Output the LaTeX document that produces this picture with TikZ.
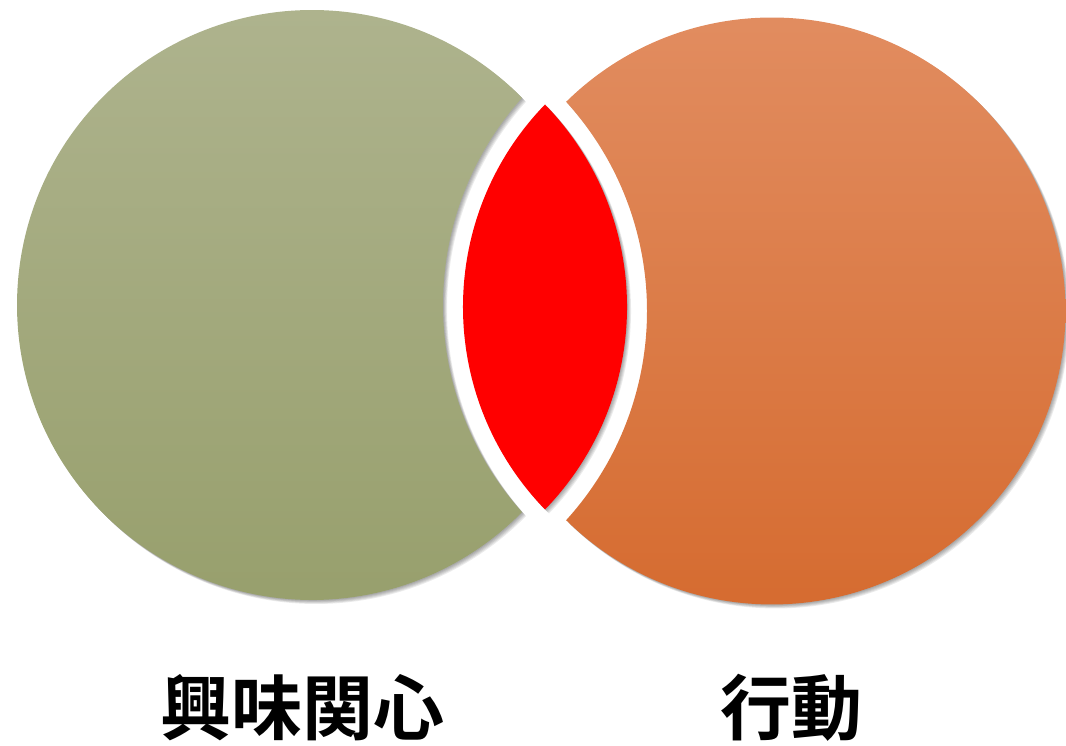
\documentclass[tikz,border=0pt]{standalone}
\usepackage{fontspec}
\newfontfamily\cjk{Noto Sans CJK JP}[BoldFont={Noto Sans CJK JP Bold}]
\definecolor{gtop}{RGB}{175,180,143}
\definecolor{gmid}{RGB}{164,170,124}
\definecolor{gbot}{RGB}{151,159,108}
\definecolor{otop}{RGB}{226,142,98}
\definecolor{omid}{RGB}{228,125,64}
\definecolor{obot}{RGB}{213,106,46}
\tikzset{
  greenshape/.style={insert path={(312,441) +(44.6:295) arc[start angle=44.6, end angle=315.4, radius=295] arc[start angle=221.77, end angle=138.23, radius=311] -- cycle}},
  orangeshape/.style={insert path={(772,435) +(134.54:293.5) arc[start angle=134.54, end angle=-134.54, radius=293.5] arc[start angle=-42.27, end angle=42.27, radius=311] -- cycle}},
  lensshape/.style={insert path={(545,641.5) arc[start angle=135.9, end angle=224.1, radius=291] arc[start angle=-44.1, end angle=44.1, radius=291] -- cycle}},
  shadowc/.style={fill=black, opacity=0.08},
  label/.style={font=\cjk\bfseries\fontsize{71}{71}\selectfont, inner sep=0pt}
}
\begin{document}
\begin{tikzpicture}[x=1pt,y=1pt]
\useasboundingbox (0,0) rectangle (1066,746);
% shadows
\foreach \d in {0.8,1.6,2.4,3.2,4.0} {
  \fill[shadowc, shift={(\d,-\d)}, greenshape];
  \fill[shadowc, shift={(\d,-\d)}, orangeshape];
  \fill[shadowc, shift={(\d,-\d)}, lensshape];
}
% shapes
\shade[top color=gtop, middle color=gmid, bottom color=gbot, greenshape];
\shade[top color=otop, middle color=omid, bottom color=obot, orangeshape];
\fill[red, lensshape];
% labels
\node[label] (interest) at (302,38) {興味関心};
\node[label] (action) at (791,38) {行動};
\end{tikzpicture}
\end{document}
